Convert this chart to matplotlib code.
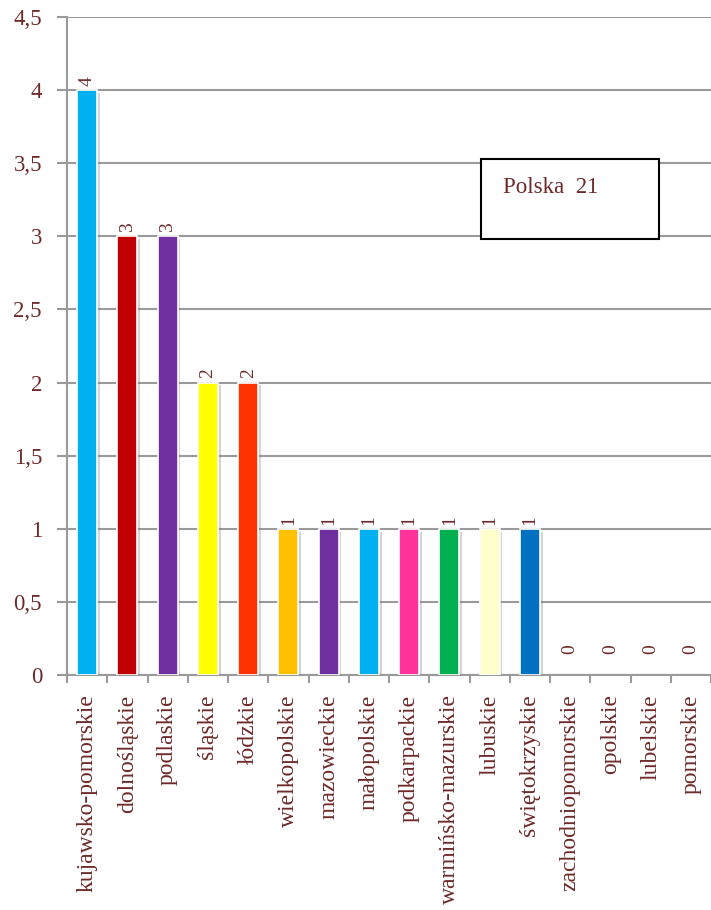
import matplotlib
matplotlib.use("Agg")
import matplotlib.pyplot as plt
from matplotlib import patheffects as pe

categories = ["kujawsko-pomorskie", "dolnośląskie", "podlaskie", "śląskie", "łódzkie",
              "wielkopolskie", "mazowieckie", "małopolskie", "podkarpackie",
              "warmińsko-mazurskie", "lubuskie", "świętokrzyskie",
              "zachodniopomorskie", "opolskie", "lubelskie", "pomorskie"]
values = [4, 3, 3, 2, 2, 1, 1, 1, 1, 1, 1, 1, 0, 0, 0, 0]
colors = ["#00B0F0", "#C00000", "#7030A0", "#FFFF00", "#FF3300", "#FFC000",
          "#7030A0", "#00B0F0", "#FF3399", "#00B050", "#FFFFCC", "#0070C0",
          "#FFFFFF", "#FFFFFF", "#FFFFFF", "#FFFFFF"]
yticks = [0, 0.5, 1, 1.5, 2, 2.5, 3, 3.5, 4, 4.5]
ytick_labels = ["0", "0,5", "1", "1,5", "2", "2,5", "3", "3,5", "4", "4,5"]
box_text = "Polska  21"

txt = "#6E2A2A"
grid = "#9A9A9A"
font = "Liberation Serif"

fig = plt.figure(figsize=(7.11, 9.10), dpi=100)
ax = fig.add_axes([67/711, 1-675/910, 1-67/711, (675-17)/910])

x = list(range(len(categories)))
bars = ax.bar(x, values, width=0.5, color=colors, edgecolor="white", linewidth=1.2, zorder=3)
for b, v in zip(bars, values):
    if v > 0:
        b.set_path_effects([pe.SimplePatchShadow(offset=(2, -2), shadow_rgbFace="#888888", alpha=0.35),
                            pe.Normal()])
    else:
        b.set_visible(False)

for xi, v in zip(x, values):
    off = 3 if v > 0 else 15
    ax.annotate(str(v), (xi, v), xytext=(0, off), textcoords="offset points",
                rotation=90, ha="center", va="bottom", fontsize=14, color=txt,
                family=font, zorder=4)

ax.set_xlim(-0.5, len(categories) - 0.5)
ax.set_ylim(0, 4.5)
ax.set_yticks(yticks)
ax.set_yticklabels(ytick_labels, family=font, fontsize=16.5, color=txt)
ax.yaxis.grid(True, color=grid, linewidth=1.5, zorder=0)
ax.set_axisbelow(True)

ax.set_xticks([i - 0.5 for i in range(len(categories) + 1)])
ax.set_xticklabels([])
ax.set_xticks(x, minor=True)
ax.set_xticklabels(categories, minor=True, rotation=90, family=font, fontsize=17, color=txt)
ax.tick_params(axis="x", which="minor", length=0, pad=14)
ax.tick_params(axis="x", which="major", length=6, width=1.5, color=grid, direction="out")
ax.tick_params(axis="y", length=7, width=1.5, color=grid, direction="out", pad=11)

for s in ["top", "right"]:
    ax.spines[s].set_visible(False)
for s in ["left", "bottom"]:
    ax.spines[s].set_color(grid)
    ax.spines[s].set_linewidth(1.5)

# text box
bx0, by0, bx1, by1 = 481/711, 1-239/910, 659/711, 1-159/910
rect = plt.Rectangle((bx0, by0), bx1-bx0, by1-by0, transform=fig.transFigure,
                     facecolor="white", edgecolor="black", linewidth=1.5, zorder=10)
fig.patches.append(rect)
fig.text(503/711, 1-193/910, box_text, family=font, fontsize=16.5, color=txt,
         ha="left", va="baseline", zorder=11)

fig.savefig("out.png", dpi=100)
